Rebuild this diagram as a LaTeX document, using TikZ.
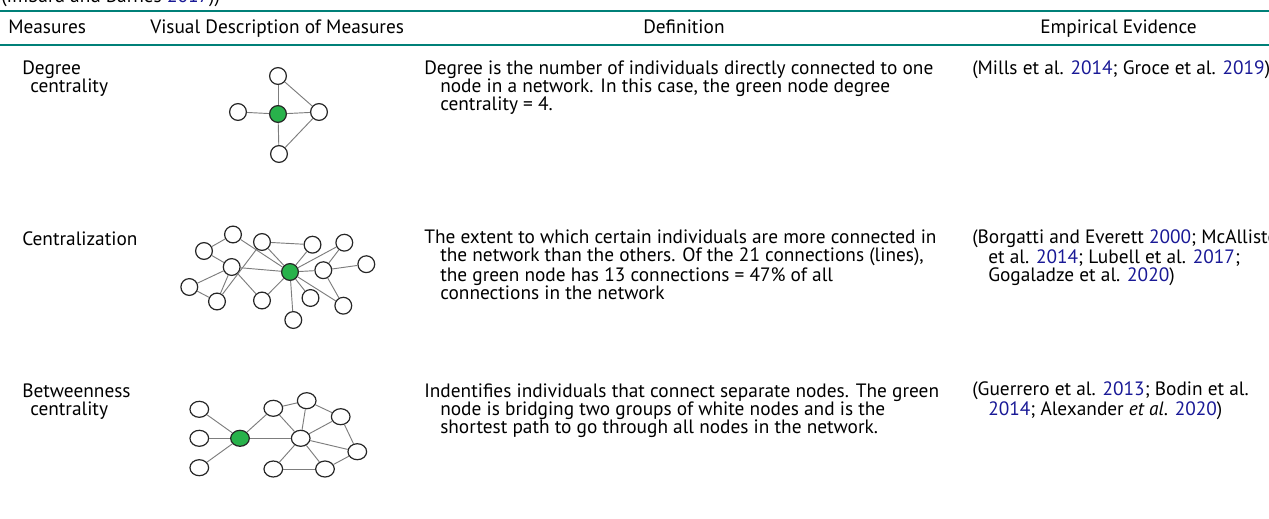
\documentclass[tikz,border=0pt]{standalone}
\usepackage{fontspec}
\setmainfont{PT Sans}
\usetikzlibrary{shapes.geometric}

\definecolor{rulecol}{RGB}{0,128,120}
\definecolor{greennode}{RGB}{40,178,75}
\definecolor{yearblue}{RGB}{25,25,150}
\definecolor{linkgray}{RGB}{125,125,125}

\newcommand{\yr}[1]{\textcolor{yearblue}{#1}}
\newcommand{\hang}{\hspace*{12pt}}

% base anchor of a multi-line node sits on its last line
\tikzset{
  txt/.style={anchor=base west, align=left, inner sep=0pt,
    font=\fontsize{14.5pt}{13.5pt}\selectfont},
  person/.style={circle, draw=black!85, line width=0.9pt, fill=white,
    minimum size=12.6pt, inner sep=0pt},
  hub/.style={person, fill=greennode},
  oval/.style={ellipse, draw=black!85, line width=0.9pt, fill=white,
    minimum width=14pt, minimum height=12pt, inner sep=0pt},
  ovalhub/.style={oval, fill=greennode},
  link/.style={draw=linkgray, line width=0.7pt}
}

\begin{document}
\begin{tikzpicture}[x=0.75pt, y=-0.75pt]
	\useasboundingbox (0,0) rectangle (1269,518);

	% caption tail, cut by the page edge
	\node[txt] (captail) at (1,2) {(Imbard and Barnes \yr{2017}))};

	% rules and header
	\draw[rulecol, line width=1.5pt] (0,11) -- (1269,11);
	\draw[rulecol, line width=1.5pt] (0,45) -- (1269,45);
	\node[txt] (hmeas) at (8,33) {Measures};
	\node[txt] (hvis) at (150,33) {Visual Description of Measures};
	\node[txt] (hdef) at (643,33) {Definition};
	\node[txt] (hemp) at (1040,33) {Empirical Evidence};

	% row 1: degree centrality
	\node[txt] (m1) at (22,92) {Degree\\\hspace*{6pt}centrality};
	\node[txt] (def1) at (424,110) {Degree is the number of individuals directly connected to one\\
		\hang node in a network. In this case, the green node degree\\
		\hang centrality = 4.};
	\node[txt] (ev1) at (972,74) {(Mills et al. \yr{2014}; Groce et al. \yr{2019})};

	\node[person] (d1) at (278,76) {};
	\node[person] (d2) at (238,112) {};
	\node[hub] (dg) at (278,114) {};
	\node[person] (d3) at (319,112) {};
	\node[person] (d4) at (279,154) {};
	\foreach \u/\v in {d1/dg, d1/d3, d2/dg, dg/d3, dg/d4, d4/d3}
		\draw[link] (\u) -- (\v);

	% row 2: centralization
	\node[txt] (m2) at (22,245) {Centralization};
	\node[txt] (def2) at (424,299) {The extent to which certain individuals are more connected in\\
		\hang the network than the others. Of the 21 connections (lines),\\
		\hang the green node has 13 connections = 47\% of all\\
		\hang connections in the network};
	\node[txt] (ev2) at (972,281) {(Borgatti and Everett \yr{2000}; McAllister\\
		\hang et al. \yr{2014}; Lubell et al. \yr{2017};\\
		\hang Gogaladze et al. \yr{2020})};

	\node[person] (ca) at (233,234.5) {};
	\node[person] (cb) at (204,251) {};
	\node[person] (cc) at (262,242) {};
	\node[person] (cd) at (312.5,244.7) {};
	\node[person] (ce) at (344.3,242.7) {};
	\node[person] (cf) at (231.7,267) {};
	\node[hub] (cg) at (290,272) {};
	\node[person] (ch) at (323.3,270.2) {};
	\node[person] (ci) at (366.3,264.2) {};
	\node[person] (cj) at (189.3,287) {};
	\node[person] (ck) at (217,301.5) {};
	\node[person] (cl) at (262,300.5) {};
	\node[person] (cm) at (310.5,298) {};
	\node[person] (cn) at (343.3,305.7) {};
	\node[person] (co) at (293.3,320) {};
	\foreach \u/\v in {cb/ca, ca/cg, cc/cg, cc/cd, cc/ck, cb/cf, cf/cg, cf/cj,
		cf/ck, cj/ck, cf/cl, cl/cg, cd/cg, ce/cg, ce/ch, ch/cg, ch/ci, ch/cn,
		cg/cn, cg/cm, cg/co}
		\draw[link] (\u) -- (\v);

	% row 3: betweenness centrality
	\node[txt] (m3) at (22,415) {Betweenness\\\hspace*{6pt}centrality};
	\node[txt] (def3) at (424,433) {Indentifies individuals that connect separate nodes. The green\\
		\hang node is bridging two groups of white nodes and is the\\
		\hang shortest path to go through all nodes in the network.};
	\node[txt] (ev3) at (972,415) {(Guerrero et al. \yr{2013}; Bodin et al.\\
		\hang \yr{2014}; Alexander \textit{et al}. \yr{2020})};

	\node[oval] (p1) at (199.3,409.3) {};
	\node[oval] (p2) at (199.3,438.3) {};
	\node[oval] (p3) at (199.3,467.7) {};
	\node[ovalhub] (bg) at (240,438.3) {};
	\node[oval] (q1) at (273.3,408.3) {};
	\node[oval] (q2) at (306.7,400.7) {};
	\node[oval] (q3) at (340.7,416.7) {};
	\node[oval] (bh) at (300.7,438.3) {};
	\node[oval] (q4) at (357.3,451.7) {};
	\node[oval] (q5) at (273.3,469) {};
	\node[oval] (q6) at (325,469) {};
	\foreach \u/\v in {p1/bg, p2/bg, p3/bg, bg/q1, bg/bh, q1/q2, q1/bh, q2/bh,
		q2/q3, q3/bh, q3/q4, bh/q4, bh/q5, bh/q6, q5/q6, q6/q4}
		\draw[link] (\u) -- (\v);
\end{tikzpicture}
\end{document}
